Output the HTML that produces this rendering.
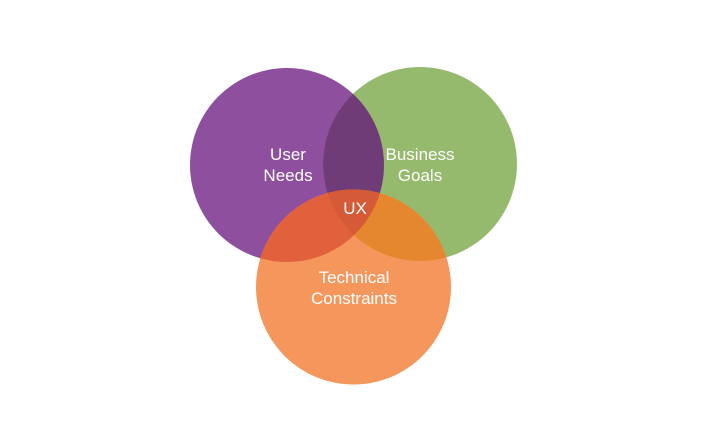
<!DOCTYPE html>
<html><head><meta charset="utf-8"><style>
html,body{margin:0;padding:0;background:#fff;}
svg{display:block}
text{font-family:"Liberation Sans",sans-serif;font-size:17px;fill:#fff;text-anchor:middle;}
</style></head><body>
<svg width="703" height="433" viewBox="0 0 703 433">
<defs>
<clipPath id="cp"><circle cx="287" cy="165" r="97"/></clipPath>
<clipPath id="cg"><circle cx="420" cy="164" r="97"/></clipPath>
<clipPath id="co"><circle cx="353.5" cy="287" r="97.5"/></clipPath>
</defs>
<rect width="703" height="433" fill="#fff"/>
<circle cx="287" cy="165" r="97" fill="#8e4f9f"/>
<circle cx="420" cy="164" r="97" fill="#95b96d"/>
<circle cx="353.5" cy="287" r="97.5" fill="#f5975d"/>
<circle cx="420" cy="164" r="97" fill="#6f3c77" clip-path="url(#cp)"/>
<circle cx="353.5" cy="287" r="97.5" fill="#e1613d" clip-path="url(#cp)"/>
<circle cx="353.5" cy="287" r="97.5" fill="#e5872f" clip-path="url(#cg)"/>
<g clip-path="url(#cp)"><circle cx="420" cy="164" r="97" fill="#d45a38" clip-path="url(#co)"/></g>
<text x="288" y="160">User</text>
<text x="288" y="181">Needs</text>
<text x="420" y="160">Business</text>
<text x="420" y="181">Goals</text>
<text x="355" y="214">UX</text>
<text x="354" y="283">Technical</text>
<text x="354" y="304">Constraints</text>
</svg>
</body></html>
